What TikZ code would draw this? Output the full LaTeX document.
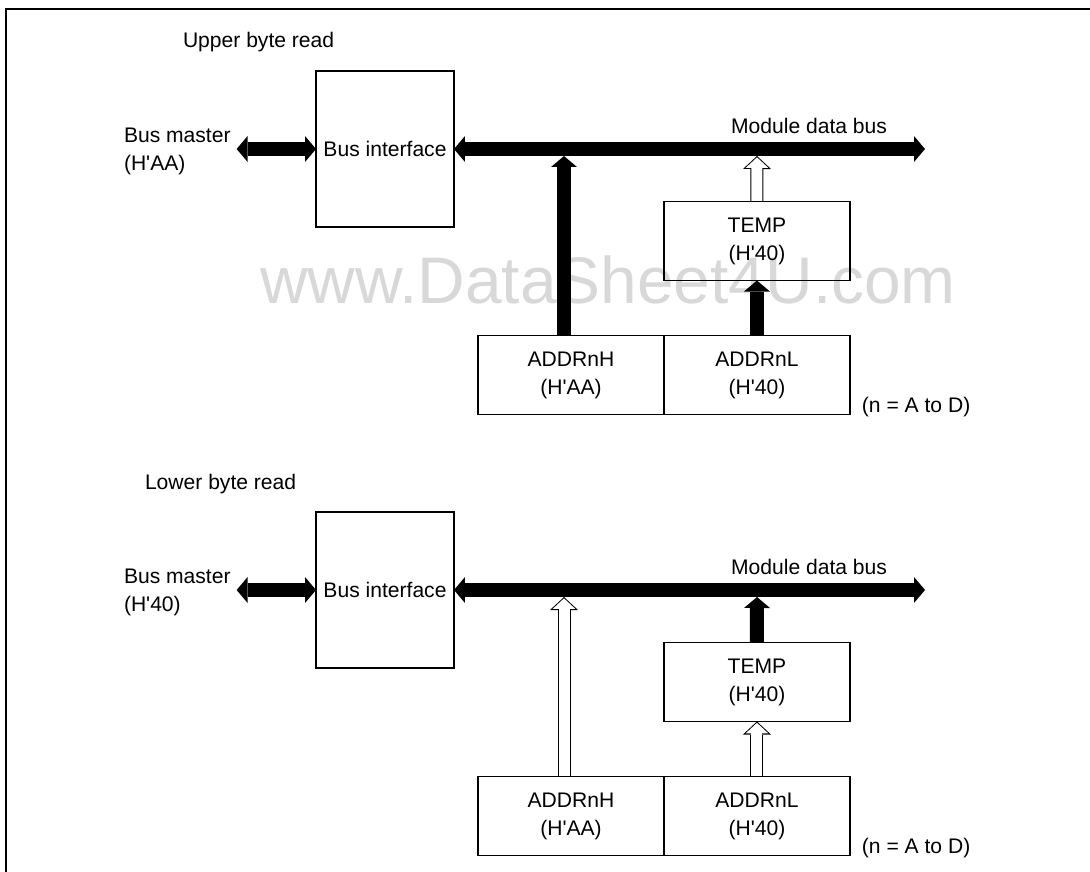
\documentclass[tikz,border=0pt]{standalone}
\usepackage{fontspec}
\setmainfont{Liberation Sans}
\usetikzlibrary{arrows.meta,positioning}
\definecolor{markGray}{RGB}{216,216,216}
\newcommand{\hexv}[1]{(H\textquotesingle#1)}

\begin{document}
\begin{tikzpicture}[
  x=0.02cm, y=-0.02cm,
  every node/.style={font=\fontsize{12}{16}\selectfont, inner sep=0pt, outer sep=0pt},
  regbox/.style={draw, line width=0.025cm, align=center,
                 minimum width=3.72cm, minimum height=1.58cm},
  ifbox/.style={draw, line width=0.025cm,
                minimum width=2.76cm, minimum height=3.12cm},
  busarrow/.style={line width=0.28cm,
    {Triangle[width=0.52cm,length=0.22cm,line width=0pt]}-{Triangle[width=0.52cm,length=0.22cm,line width=0pt]}},
  upfill/.style={line width=0.28cm,
    -{Triangle[width=0.52cm,length=0.22cm,line width=0pt]}},
  uphollow/.style={line width=0.26cm,
    -{Triangle[width=0.56cm,length=0.26cm,line width=0pt]},
    postaction={draw=white, line width=0.22cm,
      shorten >=0.027cm, shorten <=0.015cm,
      -{Triangle[width=0.456cm,length=0.212cm,line width=0pt]}}},
  sheetedge/.style={line width=0.04cm},
  node distance=1.1cm
]
  \useasboundingbox (0,0) rectangle (1090,872);

  % Watermark and page edge
  \node[font=\fontsize{37.5}{40}\selectfont, text=markGray] (mark)
    at (608,280) {www.DataSheet4U.com};
  \draw[sheetedge] (1090,9) -- (6,9) -- (6,872);

  % Upper byte read
  \node[anchor=west] (title1) at (183,42) {Upper byte read};
  \node[anchor=west, align=left] (BM1) at (124,151) {Bus master\\\hexv{AA}};
  \node[ifbox] (BI1) at (385,149) {Bus interface};
  \node[regbox] (ADDRnH1) at (571,375) {ADDRnH\\\hexv{AA}};
  \node[regbox, right=0pt of ADDRnH1] (ADDRnL1) {ADDRnL\\\hexv{40}};
  \node[regbox, above=of ADDRnL1] (TEMP1) {TEMP\\\hexv{40}};
  \coordinate (busR1) at (925,149);
  \coordinate (tapH1) at (564,156);
  \coordinate (tapT1) at (757,156);

  \draw[upfill] (ADDRnH1.north -| tapH1) -- (tapH1);
  \draw[uphollow] (TEMP1.north) -- (tapT1);
  \draw[upfill] (ADDRnL1.north) -- (TEMP1.south);

  % Lower byte read
  \node[anchor=west] (title2) at (145,484) {Lower byte read};
  \node[anchor=west, align=left] (BM2) at (124,592) {Bus master\\\hexv{40}};
  \node[ifbox] (BI2) at (385,590) {Bus interface};
  \node[regbox] (ADDRnH2) at (571,816) {ADDRnH\\\hexv{AA}};
  \node[regbox, right=0pt of ADDRnH2] (ADDRnL2) {ADDRnL\\\hexv{40}};
  \node[regbox, above=of ADDRnL2] (TEMP2) {TEMP\\\hexv{40}};
  \coordinate (busR2) at (925,590);
  \coordinate (tapH2) at (564,597);
  \coordinate (tapT2) at (757,597);

  \draw[uphollow] (ADDRnH2.north -| tapH2) -- (tapH2);
  \draw[upfill] (TEMP2.north) -- (tapT2);
  \draw[uphollow] (ADDRnL2.north) -- (TEMP2.south);

  % Buses and side notes, same in both halves
  \foreach \p in {1,2} {
    \draw[busarrow, shorten <=0.12cm] (BI\p.west -| BM\p.east) -- (BI\p.west);
    \draw[busarrow] (BI\p.east) -- (BI\p.east -| busR\p);
    \node[anchor=south east] (MDB\p)
      at ([xshift=-0.76cm, yshift=0.3cm]busR\p) {Module data bus};
    \node[anchor=west] (note\p)
      at ([xshift=0.24cm, yshift=0.14cm]ADDRnL\p.south east) {(n = A to D)};
  }
\end{tikzpicture}
\end{document}
